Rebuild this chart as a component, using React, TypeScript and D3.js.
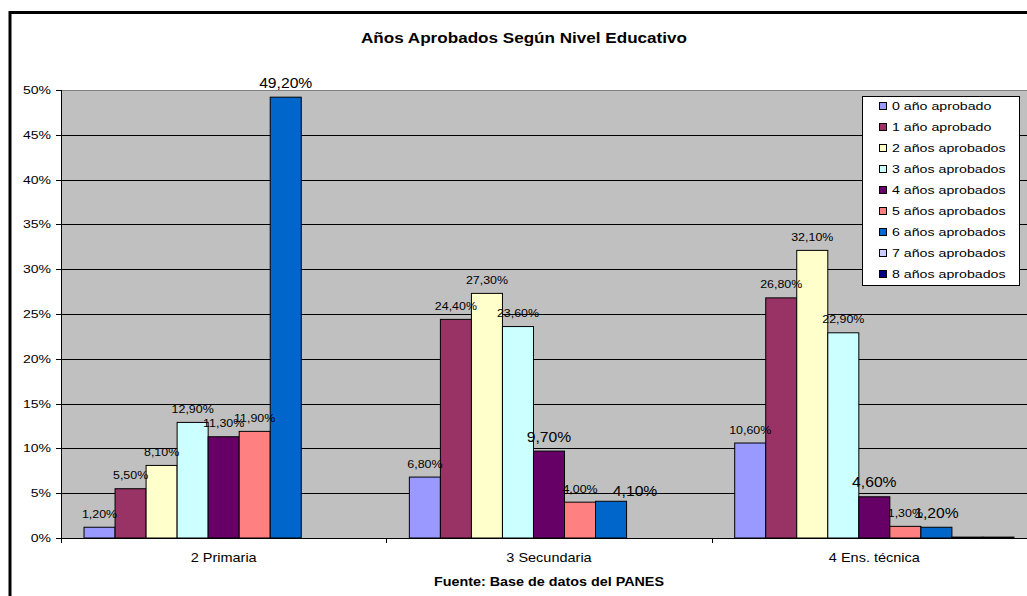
import React from "react";
import * as d3 from "d3";

const categories = ["2 Primaria", "3 Secundaria", "4 Ens. técnica"];
const seriesNames = [
  "0 año aprobado",
  "1 año aprobado",
  "2 años aprobados",
  "3 años aprobados",
  "4 años aprobados",
  "5 años aprobados",
  "6 años aprobados",
  "7 años aprobados",
  "8 años aprobados",
];
const s0 = [1.2, 6.8, 10.6];
const s1 = [5.5, 24.4, 26.8];
const s2 = [8.1, 27.3, 32.1];
const s3 = [12.9, 23.6, 22.9];
const s4 = [11.3, 9.7, 4.6];
const s5 = [11.9, 4.0, 1.3];
const s6 = [49.2, 4.1, 1.2];
const s7 = [0, 0, 0.1];
const s8 = [0, 0, 0.1];
const seriesValues = [s0, s1, s2, s3, s4, s5, s6, s7, s8];
const yTicks = [0, 5, 10, 15, 20, 25, 30, 35, 40, 45, 50];

const colors = [
  "#9999FF",
  "#993366",
  "#FFFFCC",
  "#CCFFFF",
  "#660066",
  "#FF8080",
  "#0066CC",
  "#CCCCFF",
  "#000080",
];

// label style tweaks (series-category keys)
const bigLabels = new Set(["6-0", "6-1", "4-1", "4-2", "6-2"]);
const labelShift: Record<string, [number, number]> = { "6-1": [24, 4] };

const FONT = "Arial, 'Liberation Sans', sans-serif";

function T(props: {
  x: number;
  y: number;
  size: number;
  sx?: number;
  anchor?: string;
  bold?: boolean;
  children: React.ReactNode;
  fill?: string;
}) {
  const { x, y, size, sx = 1, anchor = "start", bold, children, fill = "#000" } = props;
  return (
    <text
      transform={`translate(${x},${y}) scale(${sx},1)`}
      fontSize={size}
      fontFamily={FONT}
      fontWeight={bold ? "bold" : "normal"}
      textAnchor={anchor}
      fill={fill}
    >
      {children}
    </text>
  );
}

const fmt = (v: number) => v.toFixed(2).replace(".", ",") + "%";

export default function App() {
  const W = 1027;
  const H = 596;
  const left = 61;
  const right = 1037;
  const top = 90;
  const bottom = 538;

  const y = d3.scaleLinear().domain([0, 50]).range([bottom, top]);
  const x0 = d3.scaleBand().domain(categories).range([left, right]).padding(0);
  const x1 = d3
    .scaleBand()
    .domain(seriesNames)
    .range([0, x0.bandwidth()])
    .paddingInner(0)
    .paddingOuter(0.742);

  const legX = 862.5;
  const legY = 96.5;
  const legRow = 21;

  return (
    <svg
      width={W}
      height={H}
      style={{ position: "absolute", left: 0, top: 0, background: "#fff" }}
    >
      {/* frame */}
      <rect x={10} y={12.5} width={1100} height={700} fill="#fff" stroke="#000" strokeWidth={3} />

      {/* title */}
      <text
        x={524}
        y={43}
        fontSize={14}
        fontFamily={FONT}
        fontWeight="bold"
        textAnchor="middle"
        textLength={326}
        lengthAdjust="spacingAndGlyphs"
      >
        Años Aprobados Según Nivel Educativo
      </text>

      {/* plot area */}
      <rect x={left} y={top} width={right - left + 20} height={bottom - top} fill="#C0C0C0" />
      <line x1={left} x2={W} y1={top + 0.5} y2={top + 0.5} stroke="#808080" strokeWidth={1} />

      {/* gridlines */}
      {yTicks.filter((t) => t > 0 && t < 50).map((t) => (
        <line key={t} x1={left} x2={W} y1={Math.round(y(t)) + 0.5} y2={Math.round(y(t)) + 0.5} stroke="#000" strokeWidth={1} />
      ))}

      {/* bars */}
      {seriesValues.map((vals, si) =>
        vals.map((v, ci) => {
          if (v <= 0) return null;
          const bx = (x0(categories[ci]) as number) + (x1(seriesNames[si]) as number);
          const by = y(v);
          return (
            <rect
              key={`${si}-${ci}`}
              x={bx}
              y={by}
              width={x1.bandwidth()}
              height={bottom - by}
              fill={colors[si]}
              stroke="#000"
              strokeWidth={1}
            />
          );
        })
      )}

      {/* axes */}
      <line x1={left + 0.5} x2={left + 0.5} y1={top} y2={bottom} stroke="#000" strokeWidth={1} />
      <line x1={left} x2={W} y1={bottom + 0.5} y2={bottom + 0.5} stroke="#000" strokeWidth={1} />
      {yTicks.map((t) => (
        <g key={t}>
          <line x1={left - 5} x2={left} y1={Math.round(y(t)) + 0.5} y2={Math.round(y(t)) + 0.5} stroke="#000" />
          <T x={51} y={y(t) + 4} size={11.5} sx={1.22} anchor="end">
            {t}%
          </T>
        </g>
      ))}
      {categories.map((c, i) => {
        const cx = x0(c) as number;
        return (
          <g key={c}>
            <line x1={Math.round(cx) + 0.5} x2={Math.round(cx) + 0.5} y1={bottom} y2={bottom + 5} stroke="#000" />
            <T x={cx + x0.bandwidth() / 2} y={562} size={12.5} sx={1.16} anchor="middle">
              {c}
            </T>
          </g>
        );
      })}

      {/* data labels */}
      {seriesValues.map((vals, si) =>
        vals.map((v, ci) => {
          if (v < 1) return null;
          const key = `${si}-${ci}`;
          const big = bigLabels.has(key);
          const [dx, dy] = labelShift[key] || [0, 0];
          const cx = (x0(categories[ci]) as number) + (x1(seriesNames[si]) as number) + x1.bandwidth() / 2;
          return (
            <T
              key={key}
              x={cx + dx}
              y={y(v) - 9.5 + dy}
              size={big ? 14 : 11}
              sx={big ? 1.12 : 1.13}
              anchor="middle"
            >
              {fmt(v)}
            </T>
          );
        })
      )}

      {/* footer */}
      <text
        x={549}
        y={586}
        fontSize={12.5}
        fontFamily={FONT}
        fontWeight="bold"
        textAnchor="middle"
        textLength={230}
        lengthAdjust="spacingAndGlyphs"
      >
        Fuente: Base de datos del PANES
      </text>

      {/* legend */}
      <rect x={legX} y={legY} width={157} height={189} fill="#fff" stroke="#000" strokeWidth={1} />
      {seriesNames.map((n, i) => {
        const cy = 106 + i * legRow;
        return (
          <g key={n}>
            <rect x={879.5} y={Math.round(cy) - 3.5} width={7} height={7} fill={colors[i]} stroke="#000" strokeWidth={1} />
            <T x={892} y={cy + 4} size={11} sx={1.29}>
              {n}
            </T>
          </g>
        );
      })}
    </svg>
  );
}
